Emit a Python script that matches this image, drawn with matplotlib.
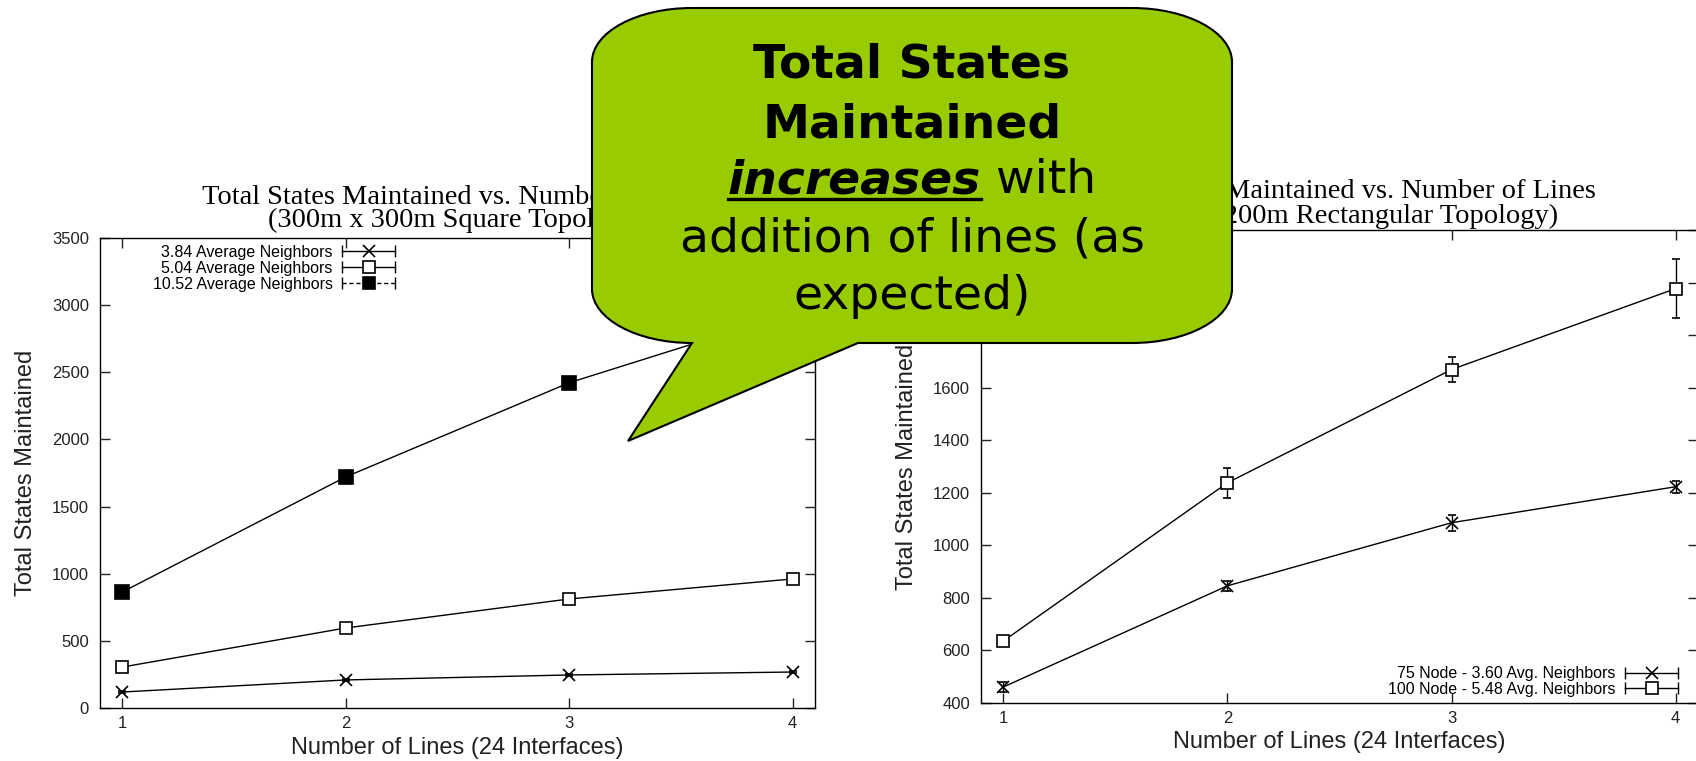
import matplotlib
matplotlib.use("Agg")
import matplotlib.pyplot as plt
from matplotlib.lines import Line2D
from matplotlib.legend_handler import HandlerLine2D, HandlerTuple
from matplotlib.patches import PathPatch
from matplotlib.path import Path

lines = [1, 2, 3, 4]

# 300m x 300m square topology
sq_labels = ["3.84 Average Neighbors", "5.04 Average Neighbors", "10.52 Average Neighbors"]
sq_384 = [119, 209, 246, 268]
sq_384_err = [6, 8, 10, 10]
sq_504 = [305, 596, 812, 961]
sq_504_err = [15, 15, 18, 20]
sq_1052 = [864, 1721, 2422, 2945]
sq_1052_err = [15, 20, 30, 40]

# 300m x 200m rectangular topology
rect_labels = ["75 Node - 3.60 Avg. Neighbors", "100 Node - 5.48 Avg. Neighbors"]
rect_75 = [461, 846, 1086, 1223]
rect_75_err = [18, 19, 30, 22]
rect_100 = [636, 1238, 1669, 1977]
rect_100_err = [10, 57, 48, 112]

W, H = 1696, 761
SANS = "Liberation Sans"
SERIF = "Liberation Serif"

fig = plt.figure(figsize=(W / 100, H / 100), dpi=100)
fig.patch.set_facecolor("white")


def box(x0, y0, x1, y1):
    # pixel box (y down) -> figure fraction rect
    return [x0 / W, 1 - y1 / H, (x1 - x0) / W, (y1 - y0) / H]


def style(ax, ylim, yticks):
    for s in ax.spines.values():
        s.set_linewidth(1.0)
    ax.set_xlim(0.9, 4.1)
    ax.set_ylim(*ylim)
    ax.set_xticks(lines)
    ax.set_yticks(yticks)
    ax.tick_params(direction="in", length=7, width=1, top=True, right=True,
                   labelsize=12, colors="#222222")
    ax.tick_params(axis="y", pad=8)
    ax.tick_params(axis="x", pad=6)
    for lab in ax.get_xticklabels() + ax.get_yticklabels():
        lab.set_family(SANS)
    ax.set_xlabel("Number of Lines (24 Interfaces)", fontsize=17, family=SANS, color="#222222")
    ax.set_ylabel("Total States Maintained", fontsize=17, family=SANS, color="#222222")


def series(ax, y, err, marker, filled, ms):
    return ax.errorbar(lines, y, yerr=err, color="black", lw=1.0, elinewidth=1.0,
                       capsize=3, capthick=1.0, marker=marker, ms=ms,
                       mfc="black" if filled else "white", mec="black", mew=1.2)


def key(marker, filled, ms, ls="-"):
    caps = Line2D([], [], color="black", lw=1.0, ls=ls, marker="|", ms=8, mew=1.0)
    mark = Line2D([], [], ls="none", marker=marker, ms=ms,
                  mfc="black" if filled else "white", mec="black", mew=1.2)
    return (caps, mark)


def legend(ax, handles, labels, loc, anchor):
    hmap = {}
    for caps, mark in handles:
        hmap[caps] = HandlerLine2D(numpoints=2, marker_pad=0)
        hmap[mark] = HandlerLine2D(numpoints=1)
    hmap[tuple] = HandlerTuple(ndivide=1, pad=0)
    ax.legend(handles, labels, loc=loc, bbox_to_anchor=anchor, frameon=False,
              markerfirst=False, borderpad=0, borderaxespad=0, handlelength=3.3,
              handletextpad=0.6, labelspacing=0.05,
              prop={"family": SANS, "size": 11.5}, handler_map=hmap)


# left panel
ax1 = fig.add_axes(box(100, 238, 815, 708))
style(ax1, (0, 3500), range(0, 3501, 500))
series(ax1, sq_384, sq_384_err, "x", False, 9)
series(ax1, sq_504, sq_504_err, "s", False, 9)
series(ax1, sq_1052, sq_1052_err, "s", True, 10)
legend(ax1,
       [key("x", False, 9), key("s", False, 8), key("s", True, 9, ls=(0, (3, 2)))],
       sq_labels, "upper right", ((395 - 100) / 715, (708 - 245) / 470))
ax1.xaxis.set_label_coords(0.5, -0.062)
ax1.yaxis.set_label_coords(-0.088, 0.5)

# right panel
ax2 = fig.add_axes(box(981, 230, 1698, 703))
style(ax2, (400, 2200), range(400, 2201, 200))
series(ax2, rect_75, rect_75_err, "x", False, 9)
series(ax2, rect_100, rect_100_err, "s", False, 9)
legend(ax2, [key("x", False, 9), key("s", False, 8)], rect_labels,
       "lower right", ((1678 - 981) / 717, (703 - 697) / 473))
ax2.xaxis.set_label_coords(0.5, -0.059)
ax2.yaxis.set_label_coords(-0.088, 0.5)

# panel titles (gnuplot-style, two lines over each plot)
for cx, y1, y2, t2 in [(457, 204, 227, "(300m x 300m Square Topology)"),
                       (1340, 198, 223, "(300m x 200m Rectangular Topology)")]:
    fig.text(cx / W, 1 - y1 / H, "Total States Maintained vs. Number of Lines",
             ha="center", va="baseline", family=SERIF, fontsize=20.5)
    fig.text(cx / W, 1 - y2 / H, t2, ha="center", va="baseline", family=SERIF, fontsize=20.5)

# speech-bubble callout
L, R, T, B = 592, 1232, 8, 343
rx, ry = 100, 54
k = 0.5523
tip = (628, 441)
p_left, p_right = 692, 858
pts = [
    ((L + rx, T), Path.MOVETO),
    ((R - rx, T), Path.LINETO),
    ((R - rx + k * rx, T), Path.CURVE4), ((R, T + ry - k * ry), Path.CURVE4), ((R, T + ry), Path.CURVE4),
    ((R, B - ry), Path.LINETO),
    ((R, B - ry + k * ry), Path.CURVE4), ((R - rx + k * rx, B), Path.CURVE4), ((R - rx, B), Path.CURVE4),
    ((p_right, B), Path.LINETO),
    (tip, Path.LINETO),
    ((p_left, B), Path.LINETO),
    ((L + rx - k * rx, B), Path.CURVE4), ((L, B - ry + k * ry), Path.CURVE4), ((L, B - ry), Path.CURVE4),
    ((L, T + ry), Path.LINETO),
    ((L, T + ry - k * ry), Path.CURVE4), ((L + rx - k * rx, T), Path.CURVE4), ((L + rx, T), Path.CURVE4),
    ((L + rx, T), Path.CLOSEPOLY),
]
verts = [(x / W, 1 - y / H) for (x, y), _ in pts]
codes = [c for _, c in pts]
bubble = PathPatch(Path(verts, codes), facecolor="#99cc00", edgecolor="black",
                   lw=1.5, transform=fig.transFigure, zorder=10)
fig.patches.append(bubble)

CX = 912
BF = "DejaVu Sans"
FS = 34
fig.text(CX / W, 1 - 78 / H, "Total States", ha="center", va="baseline",
         family=BF, fontsize=FS, fontweight="bold", zorder=11)
fig.text(CX / W, 1 - 137 / H, "Maintained", ha="center", va="baseline",
         family=BF, fontsize=FS, fontweight="bold", zorder=11)
t_inc = fig.text(0, 1 - 193 / H, "increases", ha="left", va="baseline", family=BF,
                 fontsize=FS, fontweight="bold", fontstyle="italic", zorder=11)
t_with = fig.text(0, 1 - 193 / H, " with", ha="left", va="baseline", family=BF,
                  fontsize=FS, zorder=11)
fig.text(CX / W, 1 - 251 / H, "addition of lines (as", ha="center", va="baseline",
         family=BF, fontsize=FS, zorder=11)
fig.text(CX / W, 1 - 309 / H, "expected)", ha="center", va="baseline",
         family=BF, fontsize=FS, zorder=11)

renderer = fig.canvas.get_renderer()
w_inc = t_inc.get_window_extent(renderer).width
w_with = t_with.get_window_extent(renderer).width
x0 = CX - (w_inc + w_with) / 2
t_inc.set_x(x0 / W)
t_with.set_x((x0 + w_inc) / W)
fig.add_artist(Line2D([x0 / W, (x0 + w_inc) / W], [1 - 199 / H, 1 - 199 / H],
                      color="black", lw=2.4, transform=fig.transFigure, zorder=11))

fig.savefig("out.png", dpi=100)
